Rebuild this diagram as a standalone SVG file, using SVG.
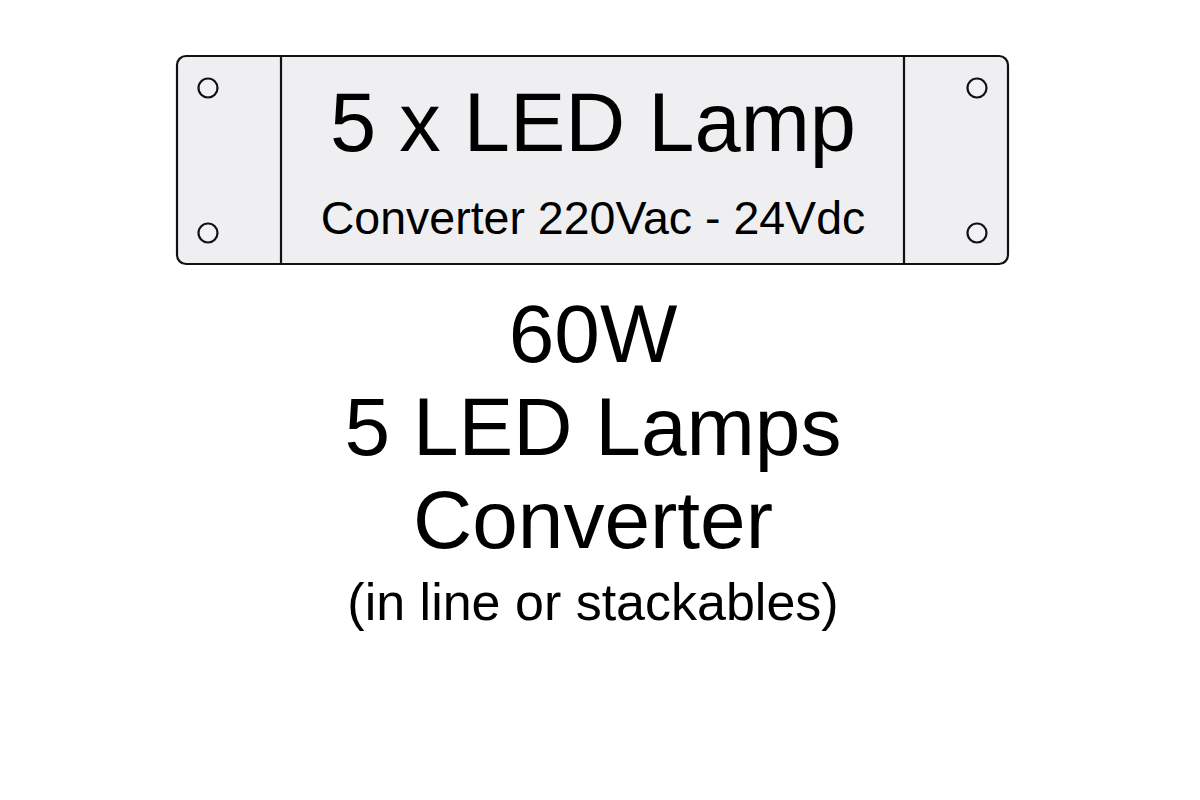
<svg xmlns="http://www.w3.org/2000/svg" width="1200" height="800" viewBox="0 0 1200 800">
<style>
.t{font-family:"Liberation Sans",Arial,sans-serif;fill:#000;text-anchor:middle}
.ln{stroke:#111;stroke-width:2.2;fill:none}
.hole{stroke:#111;stroke-width:2.2;fill:#f2f2f4}
</style>
<rect width="1200" height="800" fill="#fff"/>
<g id="converter">
<rect x="177" y="56" width="831" height="208" rx="9" ry="9" fill="#efeff2" stroke="#111" stroke-width="2.2"/>
<line class="ln" x1="281" y1="56" x2="281" y2="264"/>
<line class="ln" x1="904" y1="56" x2="904" y2="264"/>
<circle class="hole" cx="208" cy="88" r="9.5"/>
<circle class="hole" cx="208" cy="233" r="9.5"/>
<circle class="hole" cx="977" cy="88" r="9.5"/>
<circle class="hole" cx="977" cy="233" r="9.5"/>
<text class="t" x="593" y="151" font-size="83">5 x LED Lamp</text>
<text class="t" x="593" y="234" font-size="46.5">Converter 220Vac - 24Vdc</text>
</g>
<g id="caption">
<text class="t" x="593" y="362" font-size="82">60W</text>
<text class="t" x="593" y="455" font-size="82">5 LED Lamps</text>
<text class="t" x="593" y="548" font-size="82">Converter</text>
<text class="t" x="593" y="620" font-size="52">(in line or stackables)</text>
</g>
<g id="connectors"/>
</svg>
